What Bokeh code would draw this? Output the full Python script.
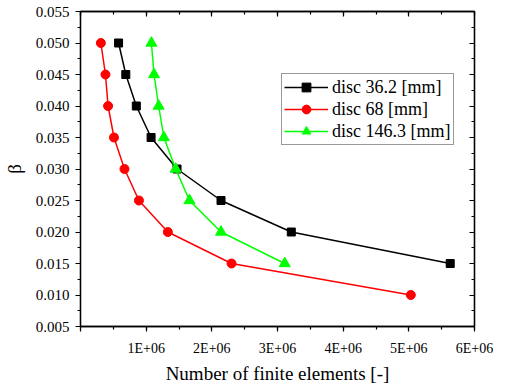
from bokeh.plotting import figure
from bokeh.models import LinearAxis, FixedTicker, Range1d
from bokeh.embed import file_html
from bokeh.resources import INLINE

# Data
n_362 = [0.58e6, 0.69e6, 0.85e6, 1.075e6, 1.47e6, 2.14e6, 3.21e6, 5.63e6]
b_362 = [0.050, 0.045, 0.040, 0.035, 0.030, 0.025, 0.020, 0.015]
n_68 = [0.31e6, 0.38e6, 0.42e6, 0.51e6, 0.67e6, 0.89e6, 1.33e6, 2.30e6, 5.03e6]
b_68 = [0.050, 0.045, 0.040, 0.035, 0.030, 0.025, 0.020, 0.015, 0.010]
n_1463 = [1.08e6, 1.12e6, 1.19e6, 1.27e6, 1.45e6, 1.66e6, 2.14e6, 3.11e6]
b_1463 = [0.050, 0.045, 0.040, 0.035, 0.030, 0.025, 0.020, 0.015]

x_ticks = [0, 1e6, 2e6, 3e6, 4e6, 5e6, 6e6]
x_tick_labels = ["", "1E+06", "2E+06", "3E+06", "4E+06", "5E+06", "6E+06"]
y_ticks = [0.005, 0.010, 0.015, 0.020, 0.025, 0.030, 0.035, 0.040, 0.045, 0.050, 0.055]
y_tick_labels = ["%.3f" % v for v in y_ticks]

FONT = "Liberation Serif"
x_minor = [i * 0.5e6 for i in range(13)]
y_minor = [0.005 + i * 0.0025 for i in range(21)]

p = figure(frame_width=394, frame_height=315, output_backend="svg", toolbar_location=None,
           x_range=Range1d(0, 6e6), y_range=Range1d(0.005, 0.055),
           x_axis_label="Number of finite elements [-]", y_axis_label="β",
           min_border_left=75, min_border_right=20, min_border_top=11, min_border_bottom=50)
p.grid.visible = False
p.outline_line_color = "black"
p.outline_line_width = 1.3
p.background_fill_color = "white"
p.border_fill_color = "white"

def style_axis(ax):
    ax.axis_line_color = "black"
    ax.axis_line_width = 1.3
    ax.major_tick_line_color = "black"
    ax.minor_tick_line_color = "black"
    ax.major_tick_line_width = 1.2
    ax.minor_tick_line_width = 1.2
    ax.major_label_text_font = FONT
    ax.major_label_text_color = "black"
    ax.axis_label_text_font = FONT
    ax.axis_label_text_font_style = "normal"
    ax.axis_label_text_color = "black"

xa = p.xaxis[0]
xa.ticker = FixedTicker(ticks=x_ticks, minor_ticks=x_minor)
xa.major_label_overrides = {t: l for t, l in zip(x_ticks, x_tick_labels)}
style_axis(xa)
xa.major_tick_out = 5
xa.major_tick_in = 0
xa.minor_tick_out = 3
xa.minor_tick_in = 0
xa.major_label_text_font_size = "14px"
xa.major_label_standoff = 9
xa.axis_label_text_font_size = "19px"
xa.axis_label_standoff = 4

ya = p.yaxis[0]
ya.ticker = FixedTicker(ticks=y_ticks, minor_ticks=y_minor)
ya.major_label_overrides = {t: l for t, l in zip(y_ticks, y_tick_labels)}
style_axis(ya)
ya.major_tick_out = 5
ya.major_tick_in = 0
ya.minor_tick_out = 3
ya.minor_tick_in = 0
ya.major_label_text_font_size = "15px"
ya.major_label_standoff = 6
ya.axis_label_text_font_size = "19px"
ya.axis_label_standoff = 8

top = LinearAxis(ticker=FixedTicker(ticks=x_ticks, minor_ticks=x_minor))
right = LinearAxis(ticker=FixedTicker(ticks=y_ticks, minor_ticks=y_minor))
for ax in (top, right):
    style_axis(ax)
    ax.major_tick_in = 5
    ax.major_tick_out = 0
    ax.minor_tick_in = 3
    ax.minor_tick_out = 0
    ax.major_label_text_font_size = "0px"
    ax.major_label_standoff = 0
    ax.major_label_text_alpha = 0
p.add_layout(top, "above")
p.add_layout(right, "right")

series = [
    (n_362, b_362, "black", "square", 8, "disc 36.2 [mm]"),
    (n_68, b_68, "red", "circle", 9, "disc 68 [mm]"),
    (n_1463, b_1463, "#00FF00", "triangle", 11, "disc 146.3 [mm]"),
]
for xs, ys, col, mk, sz, lab in series:
    p.line(xs, ys, line_color=col, line_width=1.5, legend_label=lab)
    p.scatter(xs, ys, marker=mk, size=sz, fill_color=col, line_color=col, legend_label=lab)

lg = p.legend[0]
lg.location = (201, 181)
lg.border_line_color = "#333333"
lg.border_line_width = 1.3
lg.background_fill_color = "white"
lg.background_fill_alpha = 1
lg.padding = 2
lg.margin = 0
lg.spacing = 0
lg.glyph_width = 44
lg.glyph_height = 22
lg.label_height = 22
lg.label_standoff = 4
lg.label_text_font = FONT
lg.label_text_font_size = "18px"
lg.label_text_color = "black"

open("out.html", "w").write(file_html(p, INLINE))
